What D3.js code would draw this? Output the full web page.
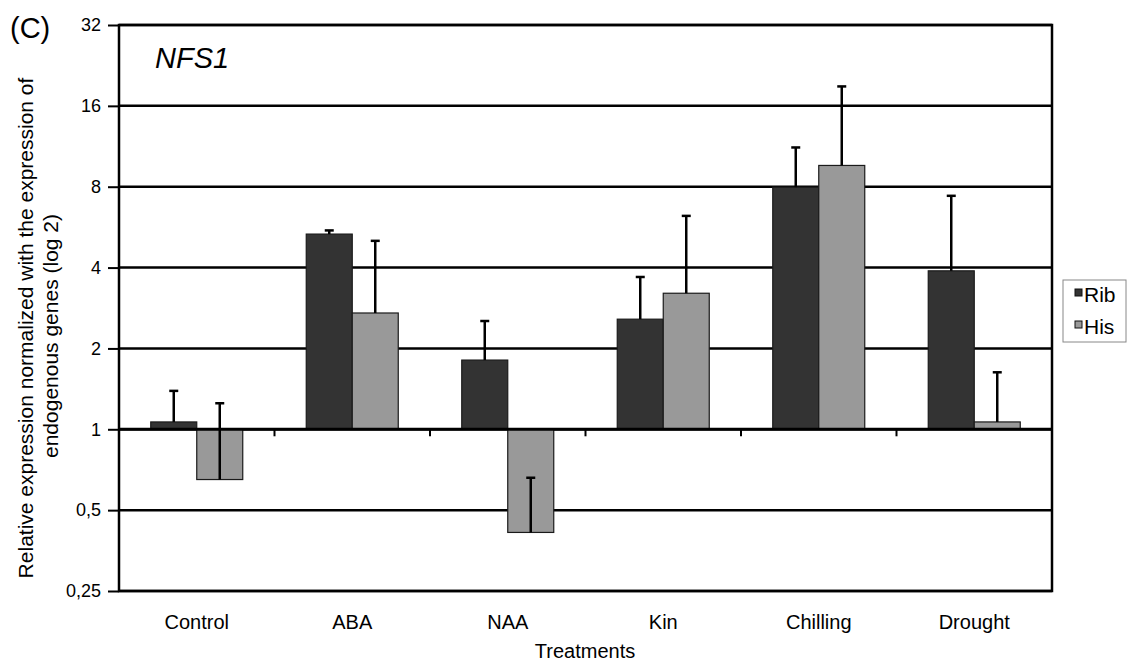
<!DOCTYPE html>
<html>
<head>
<meta charset="utf-8">
<script src="https://cdn.jsdelivr.net/npm/d3@7"></script>
<style>
  body { margin: 0; background: #fff; }
  text { font-family: "Liberation Sans", Arial, sans-serif; fill: #000; }
</style>
</head>
<body>
<svg width="1128" height="666"></svg>
<script>
var treatments = ['Control', 'ABA', 'NAA', 'Kin', 'Chilling', 'Drought'];
var seriesNames = ['Rib', 'His'];
var ribValues = [1.065, 5.33, 1.81, 2.57, 7.97, 3.89];
var ribErrTop = [1.39, 5.5, 2.53, 3.69, 11.2, 7.4];
var hisValues = [0.65, 2.71, 0.413, 3.21, 9.6, 1.065];
var hisErrTop = [1.25, 5.03, 0.66, 6.23, 18.9, 1.63];
var yTicks = [0.25, 0.5, 1, 2, 4, 8, 16, 32];
var colors = ['#333333', '#999999'];

var svg = d3.select('svg');

var plotLeft = 119, plotRight = 1052, plotTop = 25, plotBottom = 591;

var x = d3.scaleBand()
    .domain(treatments)
    .range([plotLeft, plotRight]);

var xSeries = d3.scaleBand()
    .domain(seriesNames)
    .range([0, 92]);

var y = d3.scaleLog()
    .base(2)
    .domain([0.25, 32])
    .range([plotBottom, plotTop]);

// gridlines
svg.selectAll('.grid')
    .data(yTicks)
    .enter().append('line')
    .attr('x1', plotLeft)
    .attr('x2', plotRight)
    .attr('y1', function (d) { return y(d); })
    .attr('y2', function (d) { return y(d); })
    .attr('stroke', '#000')
    .attr('stroke-width', 2.5);

// frame
svg.append('rect')
    .attr('x', plotLeft)
    .attr('y', plotTop)
    .attr('width', plotRight - plotLeft)
    .attr('height', plotBottom - plotTop)
    .attr('fill', 'none')
    .attr('stroke', '#000')
    .attr('stroke-width', 2.5);

// y axis
var yAxis = d3.axisLeft(y)
    .tickValues(yTicks)
    .tickSize(11)
    .tickPadding(7)
    .tickFormat(function (d) { return String(d).replace('.', ','); });

var gy = svg.append('g')
    .attr('transform', 'translate(' + plotLeft + ',0)')
    .call(yAxis);
gy.select('.domain').remove();
gy.selectAll('.tick line').attr('stroke-width', 2);
gy.selectAll('.tick text')
    .style('font-size', '18px')
    .style('font-family', '"Liberation Sans", Arial, sans-serif');

var data = [];
treatments.forEach(function (t, i) {
    data.push({ t: t, s: 'Rib', v: ribValues[i], e: ribErrTop[i], c: colors[0] });
    data.push({ t: t, s: 'His', v: hisValues[i], e: hisErrTop[i], c: colors[1] });
});

var groupOffset = (x.bandwidth() - 92) / 2;

svg.selectAll('.bar')
    .data(data)
    .enter().append('rect')
    .attr('class', 'bar')
    .attr('x', function (d) { return x(d.t) + groupOffset + xSeries(d.s); })
    .attr('width', xSeries.bandwidth())
    .attr('y', function (d) { return Math.min(y(d.v), y(1)); })
    .attr('height', function (d) { return Math.abs(y(d.v) - y(1)); })
    .attr('fill', function (d) { return d.c; })
    .attr('stroke', '#1a1a1a')
    .attr('stroke-width', 1.2);

// x axis along 1
svg.append('line')
    .attr('x1', plotLeft)
    .attr('x2', plotRight)
    .attr('y1', y(1))
    .attr('y2', y(1))
    .attr('stroke', '#000')
    .attr('stroke-width', 3);

svg.selectAll('.xtick')
    .data(treatments.slice(1))
    .enter().append('line')
    .attr('x1', function (d) { return x(d); })
    .attr('x2', function (d) { return x(d); })
    .attr('y1', y(1))
    .attr('y2', y(1) + 7)
    .attr('stroke', '#000')
    .attr('stroke-width', 2);

// error bars
var err = svg.selectAll('.err')
    .data(data)
    .enter().append('g');

err.append('line')
    .attr('x1', function (d) { return x(d.t) + groupOffset + xSeries(d.s) + xSeries.bandwidth() / 2; })
    .attr('x2', function (d) { return x(d.t) + groupOffset + xSeries(d.s) + xSeries.bandwidth() / 2; })
    .attr('y1', function (d) { return y(d.v); })
    .attr('y2', function (d) { return y(d.e); })
    .attr('stroke', '#000')
    .attr('stroke-width', 2.5);

err.append('line')
    .attr('x1', function (d) { return x(d.t) + groupOffset + xSeries(d.s) + xSeries.bandwidth() / 2 - 4.5; })
    .attr('x2', function (d) { return x(d.t) + groupOffset + xSeries(d.s) + xSeries.bandwidth() / 2 + 4.5; })
    .attr('y1', function (d) { return y(d.e); })
    .attr('y2', function (d) { return y(d.e); })
    .attr('stroke', '#000')
    .attr('stroke-width', 2.5);

// category labels
svg.selectAll('.xlabel')
    .data(treatments)
    .enter().append('text')
    .attr('x', function (d) { return x(d) + x.bandwidth() / 2; })
    .attr('y', 629)
    .attr('text-anchor', 'middle')
    .style('font-size', '20px')
    .text(function (d) { return d; });

svg.append('text')
    .attr('x', 585)
    .attr('y', 658)
    .attr('text-anchor', 'middle')
    .style('font-size', '20px')
    .text('Treatments');

// y title
var yTitle = svg.append('text')
    .attr('transform', 'translate(0,330) rotate(-90)')
    .attr('text-anchor', 'middle')
    .style('font-size', '21px');
yTitle.append('tspan').attr('x', 2).attr('y', 33)
    .text('Relative expression normalized with the expression of');
yTitle.append('tspan').attr('x', -6).attr('y', 58)
    .text('endogenous genes (log 2)');

svg.append('text')
    .attr('x', 10)
    .attr('y', 38)
    .style('font-size', '29px')
    .text('(C)');

svg.append('text')
    .attr('x', 155)
    .attr('y', 68)
    .style('font-size', '29px')
    .style('font-style', 'italic')
    .text('NFS1');

// legend
var legendBox = svg.append('g')
    .attr('transform', 'translate(1063,280)');
legendBox.append('rect')
    .attr('width', 63)
    .attr('height', 62)
    .attr('fill', '#fff')
    .attr('stroke', '#888')
    .attr('stroke-width', 1);

var legend = legendBox.selectAll('.legend')
    .data(seriesNames)
    .enter().append('g')
    .attr('transform', function (d, i) { return 'translate(0,' + (i * 32) + ')'; });

legend.append('rect')
    .attr('x', 12)
    .attr('y', 9)
    .attr('width', 7)
    .attr('height', 7)
    .attr('fill', function (d, i) { return colors[i]; })
    .attr('stroke', '#111')
    .attr('stroke-width', 1);

legend.append('text')
    .attr('x', 21)
    .attr('y', 22)
    .style('font-size', '21px')
    .text(function (d) { return d; });
</script>
</body>
</html>
